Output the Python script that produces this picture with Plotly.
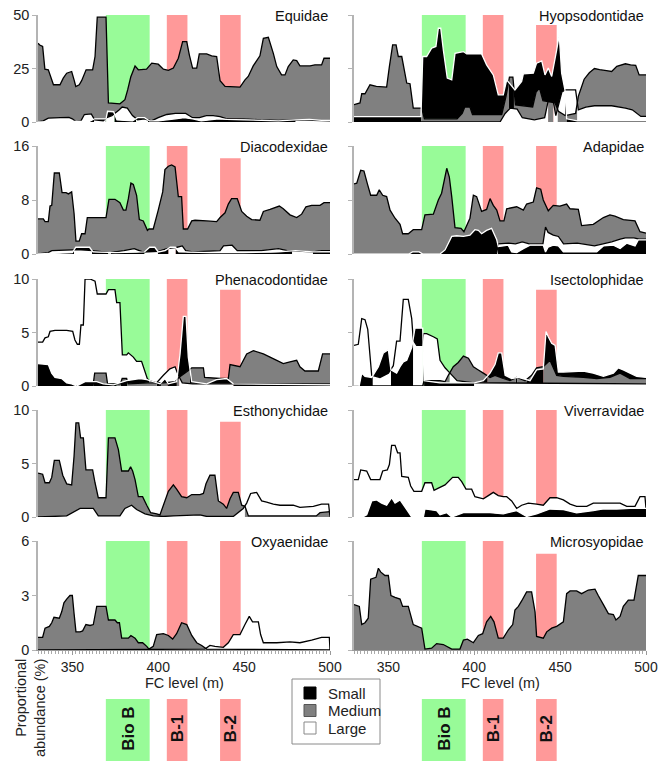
import numpy as np
import plotly.graph_objects as go

W, H = 671, 761          # browser window
OFF = 8                  # default page margin around the plot div
FW, FH = W - OFF, H - OFF
FONT = "Liberation Sans, Arial, sans-serif"
FC_RANGE = [330, 500]


def px_x(x):
    return (x - OFF) / FW


def px_y(y):
    return 1 - (y - OFF) / FH


# ---------------- event bands (FC level, m) ----------------
BIO_B = (369.5, 395.0)
B_1 = (405.0, 417.0)
B_2 = (436.0, 448.0)

# ---------------- data: (FC level m, proportional abundance %) ----------------
equidae_small = [(330,0),(348,0),(350,0.3),(360,0.3),(363,1.5),(369.6,1.5),(370.5,5),(374,4.8),(376,1),(385,0.5),(388,2),(392,2),(395,0.5),(400,0.5),(405,1),(410,1.5),(415,2),(420,1.5),(425,0.5),(430,1),(435,1.5),(440,1.2),(450,1),(460,0.8),(470,0.5),(480,1),(488,1.2),(495,0.8),(500,0.8)]
equidae_medium = [(330,36.8),(331,36),(332.7,35.3),(334,24.7),(336,24.4),(339,17.4),(342.8,17.4),(344.7,20.5),(346.7,22.8),(349.6,23.6),(351,19.7),(352,16.6),(354,17.4),(355.4,19.3),(358,24.4),(361.8,24.4),(363.2,30.6),(364.5,49),(369.6,49),(371,8.9),(377.7,8.5),(380.6,10.4),(382.2,15),(384,21),(386.5,26.2),(388.4,24.4),(393.2,24.7),(396.2,27.5),(400,27),(403,24.7),(405.9,24.1),(408.8,25.2),(411.7,29.8),(414.2,37.6),(416.6,37.6),(418.1,31.4),(420,25.2),(422.4,25.2),(423.9,31.8),(428.2,31.8),(431.1,30.9),(434,30.6),(436,19.3),(438.9,16.6),(447.6,16.3),(450.5,19.7),(452.4,21.3),(455.3,26.2),(459.2,30.9),(461.2,39.1),(464.1,39.6),(467,32.1),(469,25.9),(471.8,22),(473.8,22),(475.7,25.9),(478.6,29),(480.6,28.7),(482.5,26.2),(488.4,26.2),(491.2,26.7),(495.1,26.7),(496.5,29.8),(500,29.8)]
equidae_large = [(330,0),(333,0.5),(336,1.8),(343,2),(348,2.2),(350,1.5),(352,0.2),(355,0.5),(357,3.5),(361,3.8),(363,1),(368,0.5),(370,2),(373,3),(377,5.5),(379,7),(382,6.5),(385,3),(388,1),(392,1.5),(396,0.5),(400,2),(405,3.5),(410,4),(416,4),(420,2),(424,2),(428,3),(432,3),(436,2.5),(440,1.5),(450,1.5),(460,1),(470,0.8),(480,1),(490,0.8),(500,0.5)]

hyopsodontidae_small = [(330,2.5),(369,2.5),(370,30.6),(372.3,30.6),(375.2,34.5),(377.7,35.3),(379.1,43.8),(380.5,43.8),(382,33.7),(384.3,20.5),(386.9,19.7),(388.8,32.1),(393.7,32.9),(395.6,31.8),(404.3,31.8),(407.2,26.7),(411.1,22),(414,12.7),(416.9,12.7),(418.9,19.7),(423.7,15),(427.6,19),(428.6,22.5),(434.4,22.8),(436.3,27.5),(439.3,28.6),(441.2,22),(443.1,25.2),(445.1,21.3),(448,33.7),(449.5,40.7),(450.9,22.8),(452.8,15),(453.8,1.5),(460,0.5),(500,0.5)]
hyopsodontidae_medium = [(330,8.1),(333.5,8.9),(334.5,13.2),(336.4,13.2),(339.3,17.4),(343,16.6),(349,16.3),(350.6,25.9),(352.5,36),(354.5,36),(355.8,30.6),(357.8,30.6),(360.7,18.2),(362.6,17.9),(364.5,6.5),(369.4,6.5),(371,1.5),(390,1.5),(393,4),(394.5,7),(397.5,7),(399,3.4),(416,3.4),(418.5,12),(420.5,21),(422.5,21),(424,8),(434,7),(436,14),(438,15.8),(440,10),(447,9),(449,5),(453,3),(459,4),(460.6,12),(464,20),(467,23),(470,25),(473,24.5),(477,24),(480,23.6),(483,26),(488,27.2),(491,26.7),(494,26.5),(496,22),(500,22)]
hyopsodontidae_large = [(330,0),(392,0),(415,0),(418,4),(421,6.5),(425,6),(428,2),(435,1),(441,2),(443,9.6),(446,9.6),(447.5,3),(451,14),(453,15),(459,15),(460.6,5.7),(465,7),(470,7.6),(480,7.6),(488,6.5),(492,5.7),(497,2.6),(500,2.6)]

diacodexidae_small = [(330,0),(350,0.2),(352,1),(360,1),(362,0.3),(375,0.2),(392,0.3),(395,1),(398,1),(400,0.3),(404,0.5),(407,1),(410,1),(412,0.3),(430,0.2),(450,0.2),(470,0.3),(480,0.5),(490,0.3),(500,0.3)]
diacodexidae_medium = [(330,5.2),(333.1,5.2),(334.1,4.8),(336,4.8),(337,7.1),(338,7.2),(339.5,12),(342.4,12),(344,9.1),(346.3,9.1),(347.7,8.9),(349.6,9.2),(351,6),(352.1,1.9),(354,1.9),(355.4,3),(357.4,3),(358.7,5.4),(369.6,5.4),(371.3,8.1),(374.8,8.1),(377.7,7.6),(379.7,6.5),(381.2,6.5),(382.6,8.2),(384.1,10.5),(385.5,10.3),(387.4,8.7),(389,5.1),(391.3,4.9),(393.7,3.5),(394.6,3.7),(397.1,3.7),(400,6.5),(402.6,9.2),(403.9,12.5),(405.9,13),(407.8,13.2),(409.8,12.9),(411.7,8.5),(413.6,8.5),(414.6,3.7),(417.1,3.7),(419.5,4.9),(421.4,5),(428.2,4.9),(434,4.8),(436,5.4),(438.9,6.1),(440.8,7.4),(442.7,8.2),(446,8.2),(448.6,6.3),(451.5,5.6),(454.4,5.1),(459.2,5),(461.2,6.3),(465.1,6.6),(470.5,7.1),(472.8,6.7),(476.7,5.8),(480.6,5.4),(483.5,5.9),(486,7),(489.3,7.2),(494.2,7.2),(496.5,7.6),(500,7.6)]
diacodexidae_large = [(330,0),(336,0.2),(338,0.5),(350,0.6),(355,0.6),(362,0.5),(372,0.2),(380,0.5),(386,0.8),(391,0.3),(400,0.4),(405,0.8),(411,1.0),(414,1.2),(416,0.5),(420,0.3),(436,0.5),(438,1.2),(443,1.3),(446,0.5),(460,0.5),(470,0.8),(475,0.5),(490,0.3),(495,0.5),(500,0.5)]

adapidae_small = [(330,0),(362,0),(364,0.3),(368,0.3),(370,0),(380,0),(383,0.6),(386.9,2.6),(389.8,2.7),(393.7,2.6),(397.5,2.8),(400.4,3.6),(402.4,3.5),(404.3,3),(407.2,3.5),(410.1,3.8),(413.1,2.1),(414,1.1),(416.9,1.2),(419.8,1.3),(421.8,0.3),(424.7,0.2),(428.6,0.8),(432.5,1.3),(440.2,1.3),(441.5,0.3),(443,1),(446,1.3),(449,1.2),(451.9,0.3),(471.3,0.3),(475.2,1.2),(481,1.3),(484.9,0.8),(488.7,1.6),(493.6,1.2),(495.5,2.1),(500,2.1)]
adapidae_medium = [(330,10.4),(331.6,10.5),(333.9,12.4),(335.8,12.3),(337.8,10.4),(339.7,8.7),(343.2,8.7),(344.7,9.5),(346.7,8.7),(349,8.5),(351,6.5),(353.9,5.3),(356.8,4.4),(358.3,3),(361.6,3),(364.5,3.6),(369.4,3.6),(371.3,5.8),(376.2,5.9),(379.1,8),(381,9),(384,12.7),(385.5,11.4),(386.9,8.5),(388.8,3.9),(392.3,3.8),(394,3.3),(397.5,5.3),(399.5,8.7),(401.4,8.5),(404.3,6.3),(407.2,6.6),(409.2,8.2),(411.1,7.2),(413.1,6.5),(415,4.9),(417.3,4.9),(418.9,6.7),(424.7,7),(428.6,6.5),(430.5,7.4),(434.4,7.7),(436.3,9.8),(438.7,9.6),(440.2,8),(443.1,6.4),(446,7.2),(449.9,7.1),(453.8,7.4),(455.8,6.7),(460.6,6.6),(462.5,4.2),(469.3,4.4),(475.2,5.4),(479,5.8),(481.9,5.6),(486.8,5.1),(493.6,4.9),(496.5,3.3),(500,3.1)]
adapidae_large = [(330,0),(413,0),(414,1.5),(420,1.6),(424,1.5),(428,1.8),(432,1.5),(440,1.5),(441.5,4),(443,3.2),(446,2.8),(449,2.6),(452,1.5),(460,1.6),(470,1.2),(475,1.5),(480,1.8),(485,2.2),(488,2.4),(493,2.4),(496,2.2),(500,2.2)]

phenacodontidae_small = [(330,2.1),(336,2.0),(338,1.2),(339.9,0.8),(343.8,0.7),(346.7,0.3),(349.6,0.2),(352.5,0),(357.4,0.4),(364.2,0.4),(368,0.2),(373.9,0.1),(381.6,0.5),(389.4,0.7),(393.3,0.6),(401,0.2),(403.9,0.7),(405.9,0.2),(410.7,0.4),(412.7,3),(414.6,6.5),(416.2,6.5),(417.5,2.7),(419.5,0.4),(428.2,0.2),(434,0.6),(439.8,0.7),(443.7,0.2),(500,0.1)]
phenacodontidae_medium = [(330,0),(362,0),(363,1.2),(369.6,1.2),(370.5,0.2),(378,0.2),(379,0.7),(381.6,0.7),(382.5,0.2),(394,0.3),(403,0.3),(410,0.4),(412,0.8),(418,1.5),(419.5,1.7),(426.3,1.7),(427,0.8),(436,0.7),(440.8,0.7),(441.8,2.0),(447.6,1.8),(451.5,3.0),(455.4,3.3),(461.2,3.0),(465.1,2.7),(469,2.4),(472.8,2.1),(476.7,2.25),(480.6,2.4),(482.5,1.8),(485.4,1.4),(493.2,1.4),(495.7,3.0),(500,3.0)]
phenacodontidae_large = [(330,4.1),(332.7,4.1),(334.1,4.5),(336,4.6),(337,5.1),(339.9,5.2),(346.7,5.2),(350.2,5.1),(351.5,4.3),(352.9,3.9),(354.1,3.9),(355,5.7),(356.4,5.7),(357.4,10),(360.3,10),(363.2,9.8),(364.5,8.6),(369.6,8.6),(371,9),(374.8,9),(375.8,7.8),(377.7,7.8),(379.1,2.9),(381.6,2.9),(382.6,3.1),(385.5,2.7),(387.4,2.3),(390.3,2.3),(393.6,0.7),(394.8,0.5),(399.1,0.3),(403,1.0),(406.8,1.6),(409.8,1.8),(411.7,1.0),(414,0.3),(420,0.2),(500,0.2)]

isectolophidae_small = [(330,0),(333,0),(334.5,1.2),(336.4,0.9),(340.3,0.8),(344.2,1.8),(347.1,3.1),(350,3.4),(351.5,1.5),(354.8,1.2),(356.8,1.8),(358.7,2.25),(360.7,2.4),(363.6,3.6),(365.5,5.4),(370,5.4),(370.8,0.5),(380,0.3),(400,0.3),(405.3,0.5),(409.2,1.2),(412.1,2.0),(414,3.1),(416,3.1),(418,1.0),(421.8,0.7),(425.7,0.8),(432.5,0.5),(436.3,1.5),(440.2,1.6),(441.8,5.1),(443.1,4.6),(445.1,4.0),(447.1,3.8),(449,1.3),(451.9,1.3),(463.5,1.4),(469.3,1.2),(475.2,0.9),(481,1.2),(483.9,1.7),(486.8,1.5),(490.7,1.2),(494.6,0.9),(500,0.8)]
isectolophidae_medium = [(330,0),(370,0),(370.8,0.5),(380.1,0.5),(383,0.4),(384.9,1.0),(387.8,1.8),(390.7,2.2),(393.7,2.8),(396.6,2.6),(399.5,1.8),(402.4,1.5),(405.3,1.2),(409.2,0.8),(412.1,1.0),(416.9,0.7),(420.8,0.5),(424.7,0.8),(429.6,0.5),(433.4,1.0),(436.3,1.7),(440.2,1.8),(444.1,2.4),(448,1.0),(451.9,0.9),(463.5,0.8),(471.3,0.7),(479,0.8),(484.9,1.2),(490.7,0.7),(500,0.7)]
isectolophidae_large = [(330,3.8),(332.5,3.9),(334.5,6.3),(336.4,6.2),(338,5.3),(340.3,1.0),(345.1,0.8),(350,1.2),(352.9,1.9),(354.8,4.2),(356.8,4.2),(358.7,8.1),(361.6,8.1),(363.6,6.3),(364.5,4.3),(366.5,3.8),(369.5,3.8),(370.5,4.9),(372.3,4.9),(376.2,4.6),(378.5,4.4),(380.1,2.4),(383,1.7),(385.9,1.2),(390,0.5),(400,0.3),(500,0.2)]

esthonychidae_small = [(330,0),(500,0)]
esthonychidae_medium = [(330,4.1),(332.7,4.0),(334.1,3.2),(336.6,3.2),(338,3.7),(339.5,5.3),(342.4,5.3),(344.4,3.9),(346.7,3.1),(349.6,3.0),(351,5.7),(352.1,8.8),(353.7,8.8),(354.8,7.4),(356.4,7.4),(357.9,4.4),(361.8,4.4),(363.2,3.2),(365.1,1.8),(369.6,1.8),(371,7.4),(374.8,7.4),(376.8,6.3),(378.7,4.3),(382.6,4.3),(383.9,4.7),(385.1,4.3),(386.5,3.5),(388.4,1.9),(390.9,1.9),(393.3,1.1),(395.6,0.4),(399.1,0.3),(401,0.2),(403,1.1),(405.9,2.4),(408.8,3.0),(410.7,2.6),(413.6,1.9),(416.6,1.8),(419.5,2.1),(424.3,2.1),(426.3,2.2),(427.8,3.1),(430.1,3.9),(433,3.9),(435,1.5),(437.9,1.2),(439.8,0.8),(441.8,1.7),(443.7,2.3),(446.6,2.3),(448.6,1.1),(450.5,1.0),(452.5,0.1),(492,0.1),(494.2,0.4),(500,0.5)]
esthonychidae_large = [(330,0),(346.7,0.1),(354.5,0.8),(362.2,0.8),(365.1,0.1),(377.7,0.1),(380.6,0.8),(384.5,1.1),(387.4,0.7),(392.3,0.3),(397.1,0.1),(403,0.05),(408.8,0.1),(424.3,0.2),(428.2,0.05),(443.7,0.05),(449.5,0.8),(451.5,1.3),(453.8,2.2),(457.3,2.3),(460.2,1.5),(463.1,1.4),(467,1.2),(470.9,1.1),(478.6,1.1),(482.5,0.9),(490.3,1.0),(495.1,1.2),(499.2,1.2),(500,0)]

viverravidae_small = [(330,0),(335,0),(337.4,0.2),(340.3,1.5),(343.2,1.6),(346.1,1.3),(349,1.1),(351.9,1.8),(353.9,1.3),(356.8,1.6),(360.7,0.7),(363.6,0),(370.4,0),(371.3,0.75),(378.1,0.6),(380.1,0.2),(384,0.4),(386.9,0),(393.7,0.4),(405.3,0.4),(409.2,0.4),(416.9,0.3),(424.7,0.6),(430.5,0.05),(436.3,0.3),(444.1,0.75),(451.9,0.7),(459.6,0.4),(469.3,0.6),(475.2,0.75),(483,0.75),(490.7,0.8),(500,0.8)]
viverravidae_medium = [(330,0),(500,0)]
viverravidae_large = [(330,3.5),(332.5,3.5),(333.9,4.4),(337.4,4.3),(339.7,3.5),(345.1,3.5),(346.7,4.3),(349.4,4.4),(350.6,4.9),(351.9,6.7),(353.9,6.7),(355.4,6.0),(356.8,6.0),(357.8,3.8),(361.6,3.7),(363,2.9),(364.9,2.4),(369.4,2.4),(371.3,3.2),(375.2,3.2),(376.6,2.5),(379.1,2.7),(383,3.0),(387.4,3.7),(390.7,3.7),(392.7,3.3),(395.2,2.6),(398.5,2.6),(400.4,1.9),(405.3,1.7),(408.2,2.0),(411.1,2.3),(414,2.0),(416.9,1.9),(418.9,1.9),(421.8,1.5),(424.7,0.8),(427.6,1.1),(431.5,1.3),(436.3,1.2),(440.2,1.1),(444.1,1.8),(448,1.8),(451.9,1.6),(455.8,1.2),(459.6,1.0),(465.5,1.0),(469.3,1.3),(484.9,1.3),(488.8,1.0),(493.6,1.0),(496.5,1.9),(499.4,1.9),(500,0.8)]

oxyaenidae_small = [(330,0),(500,0)]
oxyaenidae_medium = [(330,0.7),(332.7,0.7),(334.1,1.2),(336.6,1.3),(338,1.5),(339.3,1.8),(342.4,1.75),(343.8,2.1),(345.1,2.6),(346.7,2.8),(348.6,3.0),(350,3.0),(351,2.0),(352.1,1.0),(354.5,1.0),(356,1.05),(357.9,1.4),(360.3,1.35),(362.2,1.4),(364.2,2.4),(369.6,2.4),(371,1.65),(374.8,1.65),(376.2,1.5),(377.4,1.5),(378.7,0.65),(382.6,0.65),(384.1,0.8),(386.5,0.65),(388.4,0.4),(390.9,0.4),(393.3,0.2),(394.6,0.05),(397.1,0.2),(399.1,0.85),(403,0.9),(405.9,0.8),(408.4,0.6),(410.7,0.9),(413.6,1.5),(416.6,1.4),(419.5,0.8),(422.4,0.4),(425.3,0.25),(428.2,0.05),(500,0)]
oxyaenidae_large = [(330,0),(427.2,0.05),(430.1,0.25),(433,0.2),(437.9,0.15),(440.8,0.4),(443.7,0.85),(447.6,0.85),(450.5,1.4),(453,1.85),(454.9,1.55),(458.3,1.55),(459.6,0.85),(461.2,0.4),(469,0.4),(476.7,0.45),(482.5,0.4),(489.3,0.55),(495.1,0.7),(499.6,0.7),(500,0)]

microsyopidae_small = [(330,0),(500,0)]
microsyopidae_medium = [(330,2.5),(333.1,2.4),(334.5,1.4),(336.4,1.5),(338.3,1.75),(339.7,3.9),(342.8,4.0),(344.2,4.5),(345.5,4.3),(348,4.1),(350,4.1),(351.5,3.0),(353.9,2.9),(356.8,2.8),(358.3,2.4),(361.6,2.4),(364.5,1.4),(369.4,1.2),(371.3,0.05),(375.2,0.1),(378.1,0.35),(382,0.3),(386.9,0.05),(391.7,0.05),(393.7,0.55),(396,0.6),(399.5,0.4),(402.4,0.8),(404.9,0.9),(407.2,1.55),(409.6,1.85),(411.5,1.55),(414,0.65),(416.9,0.65),(419.8,1.1),(422.4,1.4),(423.7,2.2),(425.7,2.4),(427.6,2.7),(430.5,3.2),(433.4,3.2),(435.4,2.1),(436.3,0.75),(440.2,0.65),(442.2,1.0),(445.1,1.2),(448,1.3),(451.9,1.55),(453.8,3.1),(455.8,3.25),(459.6,3.25),(462.5,3.1),(466.4,3.3),(470.3,3.35),(472.2,3.0),(475.2,2.5),(478.1,2.0),(481,1.95),(482.5,1.65),(484.9,1.85),(486.8,2.4),(489.7,2.75),(493,2.75),(495.5,4.1),(500,4.1)]
microsyopidae_large = [(330,0),(500,0)]

# ---------------- panel set-up ----------------
panels = [
    ("Equidae", equidae_small, equidae_medium, equidae_large, 50, [0, 25, 50], 50),
    ("Hyopsodontidae", hyopsodontidae_small, hyopsodontidae_medium, hyopsodontidae_large, 50, [0, 25, 50], 45.3),
    ("Diacodexidae", diacodexidae_small, diacodexidae_medium, diacodexidae_large, 16, [0, 8, 16], 14.2),
    ("Adapidae", adapidae_small, adapidae_medium, adapidae_large, 16, [0, 8, 16], 16),
    ("Phenacodontidae", phenacodontidae_small, phenacodontidae_medium, phenacodontidae_large, 10, [0, 5, 10], 9.0),
    ("Isectolophidae", isectolophidae_small, isectolophidae_medium, isectolophidae_large, 10, [0, 5, 10], 9.0),
    ("Esthonychidae", esthonychidae_small, esthonychidae_medium, esthonychidae_large, 10, [0, 5, 10], 8.9),
    ("Viverravidae", viverravidae_small, viverravidae_medium, viverravidae_large, 10, [0, 5, 10], 10),
    ("Oxyaenidae", oxyaenidae_small, oxyaenidae_medium, oxyaenidae_large, 6, [0, 3, 6], 6),
    ("Microsyopidae", microsyopidae_small, microsyopidae_medium, microsyopidae_large, 6, [0, 3, 6], 5.3),
]

size_classes = ["Small", "Medium", "Large"]
fill_colors = {"Small": "#000000", "Medium": "#808080", "Large": "#ffffff"}
edge_colors = {"Small": "#ffffff", "Medium": "#000000", "Large": "#000000"}
legend_edges = {"Small": "#000000", "Medium": "#555555", "Large": "#888888"}
GREEN = "rgb(152,251,152)"
RED = "rgb(255,153,153)"

ROWS_PX = [(15, 122), (146, 254), (279, 386), (410, 517), (541, 650)]
COLS_PX = [(38, 330), (354, 646)]


def visible_bands(series):
    """Per-x painter's order: at every x the tallest class sits behind the shorter ones.
    Returns, per class, the polygon of its visible band (from the next-lower class up to itself)."""
    xs_l = [np.array([p[0] for p in s], float) for s in series]
    ys_l = [np.array([p[1] for p in s], float) for s in series]

    def ev(g):
        return np.array([np.interp(g, x, y) for x, y in zip(xs_l, ys_l)])

    grid = np.unique(np.concatenate(xs_l))
    vals = ev(grid)
    cross = []
    n = len(series)
    for a in range(n):
        for b in range(a + 1, n):
            d = vals[a] - vals[b]
            for i in np.where(d[:-1] * d[1:] < 0)[0]:
                t = d[i] / (d[i] - d[i + 1])
                cross.append(grid[i] + t * (grid[i + 1] - grid[i]))
    grid = np.unique(np.concatenate([grid, np.array(cross, float)]))
    vals = ev(grid)
    mids = ev((grid[:-1] + grid[1:]) / 2)
    polys = []
    for s in range(n):
        px, up, lo = [], [], []
        for i in range(len(grid) - 1):
            below = [t for t in range(n) if t != s and
                     (mids[t, i] < mids[s, i] or (mids[t, i] == mids[s, i] and t < s))]
            for j in (i, i + 1):
                px.append(float(grid[j]))
                up.append(float(vals[s, j]))
                lo.append(float(max(vals[t, j] for t in below)) if below else 0.0)
        polys.append((px, up, lo))
    return polys


fig = go.Figure()
shapes, annotations = [], []
layout_axes = {}

for k, (name, small, medium, large, ymax, yticks, b2top) in enumerate(panels):
    r, c = divmod(k, 2)
    idx = k + 1
    xa = "x" if idx == 1 else f"x{idx}"
    ya = "y" if idx == 1 else f"y{idx}"
    top_px, bot_px = ROWS_PX[r]
    x0_px, x1_px = COLS_PX[c]
    bottom_row = (r == 4)

    series = [small, medium, large]
    polys = visible_bands(series)
    for cls, (px, up, lo) in zip(size_classes, polys):
        fig.add_trace(go.Scatter(
            x=px + px[::-1], y=up + lo[::-1],
            fill="toself", fillcolor=fill_colors[cls], mode="lines",
            line=dict(width=0, simplify=False), xaxis=xa, yaxis=ya,
            showlegend=False, hoverinfo="skip"))
    for cls, s in zip(["Medium", "Large", "Small"], [medium, large, small]):
        ys = [p[1] for p in s]
        if max(ys) <= 0:
            continue
        fig.add_trace(go.Scatter(
            x=[p[0] for p in s], y=ys, mode="lines",
            line=dict(color=edge_colors[cls], width=1.3, simplify=False),
            xaxis=xa, yaxis=ya, showlegend=False, hoverinfo="skip"))

    # event bands
    for (b0, b1), col, top in [(BIO_B, GREEN, ymax), (B_1, RED, ymax), (B_2, RED, b2top)]:
        shapes.append(dict(type="rect", xref=xa, yref=ya, x0=b0, x1=b1, y0=0, y1=top,
                           fillcolor=col, line=dict(width=0), layer="below"))

    xaxis = dict(domain=[px_x(x0_px), px_x(x1_px)], range=FC_RANGE, anchor=ya, automargin=False,
                 showgrid=False, zeroline=False, ticklabeloverflow="allow")
    if bottom_row:
        xaxis.update(showline=True, linecolor="#9a9a9a", linewidth=1, ticks="outside",
                     tickvals=[350, 400, 450, 500], ticklen=4, tickcolor="#9a9a9a",
                     tickfont=dict(size=14, color="#222", family=FONT),
                     minor=dict(ticks="outside", dtick=2, tick0=330, ticklen=3, tickcolor="#aaaaaa"))
    else:
        xaxis.update(showline=False, showticklabels=False, ticks="")
    yaxis = dict(domain=[px_y(bot_px), px_y(top_px)], range=[0, ymax], anchor=xa, automargin=False,
                 showgrid=False, zeroline=False, showline=True, linecolor="#b4b4b4", linewidth=1.5,
                 ticks="outside", ticklen=4, tickcolor="#b4b4b4", tickvals=yticks,
                 ticklabeloverflow="allow",
                 showticklabels=(c == 0), tickfont=dict(size=14.5, color="#222", family=FONT))
    layout_axes["xaxis" if idx == 1 else f"xaxis{idx}"] = xaxis
    layout_axes["yaxis" if idx == 1 else f"yaxis{idx}"] = yaxis

    annotations.append(dict(text=name, xref="paper", yref="paper", x=px_x(x1_px), y=px_y(top_px + 1),
                            xanchor="right", yanchor="middle", showarrow=False,
                            font=dict(size=14.5, color="#111", family=FONT)))
    if bottom_row:
        annotations.append(dict(text="FC level (m)", xref="paper", yref="paper",
                                x=px_x((x0_px + x1_px) / 2), y=px_y(683), xanchor="center", yanchor="middle",
                                showarrow=False, font=dict(size=14.5, color="#222", family=FONT)))
        # event key boxes below the x axis
        for (b0, b1), col, lab in [(BIO_B, GREEN, "Bio B"), (B_1, RED, "B-1"), (B_2, RED, "B-2")]:
            shapes.append(dict(type="rect", xref=xa, yref="paper", x0=b0, x1=b1, y0=0, y1=px_y(699),
                               fillcolor=col, line=dict(width=0)))
            annotations.append(dict(text=f"<b>{lab}</b>", xref=xa, yref="paper", x=(b0 + b1) / 2,
                                    y=px_y(729), textangle=-90, showarrow=False,
                                    xanchor="center", yanchor="middle",
                                    font=dict(size=17, color="#111", family=FONT)))

annotations.append(dict(text="Proportional<br>abundance (%)", xref="paper", yref="paper",
                        x=px_x(30), y=px_y(708), textangle=-90, align="right", showarrow=False,
                        xanchor="center", yanchor="middle",
                        font=dict(size=14.5, color="#222", family=FONT)))

# legend (size-class key)
shapes.append(dict(type="rect", xref="paper", yref="paper", x0=px_x(292), x1=px_x(380),
                   y0=px_y(744), y1=px_y(679), fillcolor="white",
                   line=dict(color="#8a8a8a", width=1)))
for i, cls in enumerate(size_classes):
    cy = 693 + i * 17.5
    shapes.append(dict(type="rect", xref="paper", yref="paper", x0=px_x(304), x1=px_x(316),
                       y0=px_y(cy + 6), y1=px_y(cy - 6), fillcolor=fill_colors[cls],
                       line=dict(color=legend_edges[cls], width=1)))
    annotations.append(dict(text=cls, xref="paper", yref="paper", x=px_x(326), y=px_y(cy),
                            xanchor="left", yanchor="middle", showarrow=False,
                            font=dict(size=15, color="#222", family=FONT)))

fig.update_layout(
    template="none",
    width=FW, height=FH, margin=dict(l=0, r=0, t=0, b=0, autoexpand=False),
    paper_bgcolor="white", plot_bgcolor="white",
    font=dict(family=FONT, color="#222"),
    shapes=shapes, annotations=annotations,
    showlegend=False,
    **layout_axes,
)

fig.write_html("out.html")
